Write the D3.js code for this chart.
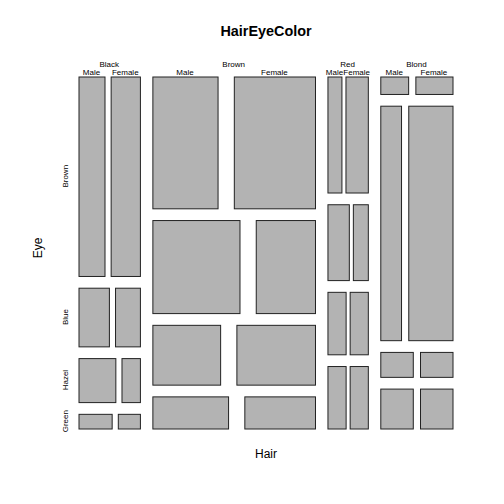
<!DOCTYPE html>
<html><head><meta charset="utf-8">
<script src="https://cdn.jsdelivr.net/npm/d3@7"></script>
<style>body{margin:0;background:#fff}svg{font-family:"Liberation Sans",Arial,sans-serif}</style>
</head><body><svg id="c" width="504" height="504"></svg>
<script>
const hair = ["Black","Brown","Red","Blond"];
const eye = ["Brown","Blue","Hazel","Green"];
const sex = ["Male","Female"];
// counts[hair][eye] for each sex
const male = [[32,11,10,3],[53,50,25,15],[10,10,7,7],[3,30,5,8]];
const female = [[36,9,5,2],[66,34,29,14],[16,7,7,7],[4,64,5,8]];

const svg = d3.select("#c");
const off = 0.1;
const x = d3.scaleLinear().domain([0,1]).range([78.5,452.5]);
const y = d3.scaleLinear().domain([0,1]).range([76.5,428.5]);

const hairTot = hair.map((h,i)=>d3.sum(male[i])+d3.sum(female[i]));

function split(a,b,vals){
  const n = vals.length, s = d3.sum(vals);
  const white = off*(b-a)/Math.max(1,n-1);
  let pos = a; const out=[];
  vals.forEach(v=>{const w=(1-off)*v/s*(b-a); out.push([pos,pos+w]); pos+=w+white;});
  return out;
}

const hs = split(0,1,hairTot);
const g = svg.append("g");
hs.forEach(([h0,h1],i)=>{
  const eyeTot = eye.map((e,j)=>male[i][j]+female[i][j]);
  const es = split(0,1,eyeTot);
  g.append("text").attr("x",x((h0+h1)/2)).attr("y",67).attr("text-anchor","middle")
    .attr("font-size",8).attr("fill","#000").text(hair[i]);
  es.forEach(([e0,e1],j)=>{
    const ss = split(h0,h1,[male[i][j],female[i][j]]);
    ss.forEach(([s0,s1],k)=>{
      g.append("rect").attr("x",x(s0)+0.5).attr("y",y(e0)+0.5)
        .attr("width",x(s1)-x(s0)).attr("height",y(e1)-y(e0))
        .attr("fill","#B3B3B3").attr("stroke","#222").attr("stroke-width",1);
      if(j===0){
        g.append("text").attr("x",x((s0+s1)/2)).attr("y",75).attr("text-anchor","middle")
          .attr("font-size",8).attr("fill","#000").text(sex[k]);
      }
    });
    if(i===0){
      const cy = y((e0+e1)/2);
      g.append("text").attr("transform",`translate(68,${cy}) rotate(-90)`)
        .attr("text-anchor","middle").attr("font-size",8).attr("fill","#000").text(eye[j]);
    }
  });
});

svg.append("text").attr("x",266).attr("y",36).attr("text-anchor","middle")
  .attr("font-size",14.4).attr("font-weight","bold").text("HairEyeColor");
svg.append("text").attr("x",266).attr("y",458).attr("text-anchor","middle")
  .attr("font-size",12).text("Hair");
svg.append("text").attr("transform","translate(42,248) rotate(-90)").attr("text-anchor","middle")
  .attr("font-size",12).text("Eye");
</script></body></html>
